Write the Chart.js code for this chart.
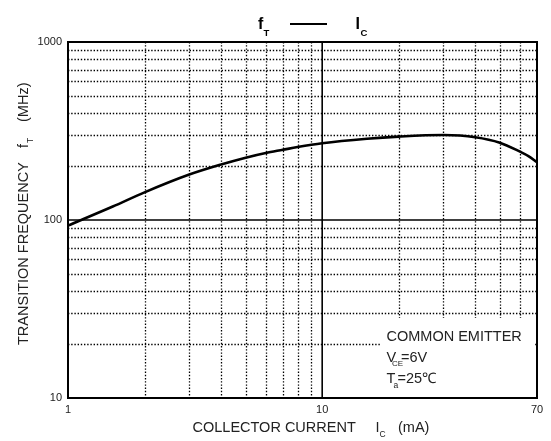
<!DOCTYPE html>
<html><head><meta charset="utf-8">
<script src="https://cdn.jsdelivr.net/npm/chart.js@4/dist/chart.umd.min.js"></script>
<style>html,body{margin:0;padding:0;background:#fff}canvas{display:block}</style>
</head><body>
<canvas id="c" width="551" height="441"></canvas>
<script>
// ---- data ----
const currents = [1, 1.5, 2, 3, 4, 5, 6, 7, 8, 10, 15, 20, 30, 40, 50, 60, 65, 70];      // Ic (mA)
const fTvalues = [93, 119, 143, 180, 205, 224, 238, 248, 257, 270, 286, 294, 300, 292, 272, 242, 228, 211]; // fT (MHz)
const xTickLabels = [1, 10, 70];
const yTickLabels = [10, 100, 1000];
const xMinorGrid = [2, 3, 4, 5, 6, 7, 8, 9, 20, 30, 40, 50, 60];
const yMinorGrid = [20, 30, 40, 50, 60, 70, 80, 90, 200, 300, 400, 500, 600, 700, 800, 900];
const xMajorGrid = [10];
const yMajorGrid = [100];
const titleParts = ['f', 'T', 'I', 'C'];
const xTitleText = 'COLLECTOR CURRENT';
const yTitleText = 'TRANSITION FREQUENCY';
const noteLines = ['COMMON EMITTER', 'V', 'CE', '=6V', 'T', 'a', '=25\u2103'];

const FONT = "'Liberation Sans', Arial, sans-serif";
const TXT = '#222';

function txt(ctx, s, x, y, size, bold, color) {
  ctx.font = (bold ? 'bold ' : '') + size + 'px ' + FONT;
  ctx.fillStyle = color || TXT;
  ctx.fillText(s, x, y);
  return ctx.measureText(s).width;
}

const decor = {
  id: 'decor',
  beforeDatasetsDraw(chart) {
    const ctx = chart.ctx, a = chart.chartArea;
    const xs = chart.scales.x, ys = chart.scales.y;
    ctx.save();
    // dotted minor grid
    ctx.strokeStyle = '#000';
    ctx.lineWidth = 1.3;
    ctx.setLineDash([1.4, 1.8]);
    xMinorGrid.forEach(v => {
      const px = Math.round(xs.getPixelForValue(v)) + 0.5;
      ctx.beginPath(); ctx.moveTo(px, a.top); ctx.lineTo(px, a.bottom); ctx.stroke();
    });
    yMinorGrid.forEach(v => {
      const py = Math.round(ys.getPixelForValue(v)) + 0.5;
      ctx.beginPath(); ctx.moveTo(a.left, py); ctx.lineTo(a.right, py); ctx.stroke();
    });
    // solid major grid
    ctx.setLineDash([]);
    ctx.strokeStyle = '#000';
    ctx.lineWidth = 1.6;
    xMajorGrid.forEach(v => {
      const px = xs.getPixelForValue(v);
      ctx.beginPath(); ctx.moveTo(px, a.top); ctx.lineTo(px, a.bottom); ctx.stroke();
    });
    yMajorGrid.forEach(v => {
      const py = ys.getPixelForValue(v);
      ctx.beginPath(); ctx.moveTo(a.left, py); ctx.lineTo(a.right, py); ctx.stroke();
    });
    ctx.restore();
  },
  afterDatasetsDraw(chart) {
    const ctx = chart.ctx, a = chart.chartArea;
    ctx.save();
    // annotation box
    ctx.fillStyle = '#fff';
    ctx.fillRect(380, 318, 154, a.bottom - 318);
    ctx.textBaseline = 'alphabetic';
    txt(ctx, noteLines[0], 386.5, 341, 14.5, false);
    txt(ctx, noteLines[1], 386.5, 362, 14.5, false);
    txt(ctx, noteLines[2], 392, 366, 8, false);
    txt(ctx, noteLines[3], 401, 362, 14.5, false);
    txt(ctx, noteLines[4], 386.5, 383, 14.5, false);
    txt(ctx, noteLines[5], 393.5, 387.5, 8.5, false);
    txt(ctx, noteLines[6], 397.5, 383, 14.5, false);
    // frame
    ctx.strokeStyle = '#000';
    ctx.lineWidth = 2;
    ctx.strokeRect(a.left, a.top, a.right - a.left, a.bottom - a.top);
    ctx.restore();
  },
  afterDraw(chart) {
    const ctx = chart.ctx;
    ctx.save();
    ctx.textBaseline = 'alphabetic';
    // title
    txt(ctx, titleParts[0], 258, 28.5, 16, true, '#000');
    txt(ctx, titleParts[1], 263.5, 35.5, 9.5, true, '#000');
    ctx.strokeStyle = '#000'; ctx.lineWidth = 2;
    ctx.beginPath(); ctx.moveTo(290, 24); ctx.lineTo(327, 24); ctx.stroke();
    txt(ctx, titleParts[2], 355.5, 28.5, 16, true, '#000');
    txt(ctx, titleParts[3], 360.5, 35.5, 9.5, true, '#000');
    // x title
    txt(ctx, xTitleText, 192.5, 432, 14.5, false);
    txt(ctx, 'I', 375.5, 432, 14.5, false);
    txt(ctx, 'C', 379.5, 437, 8.5, false);
    txt(ctx, '(mA)', 398, 432, 14.5, false);
    // y title (rotated)
    ctx.translate(27.5, 345);
    ctx.rotate(-Math.PI / 2);
    txt(ctx, yTitleText, 0, 0, 14.5, false);
    txt(ctx, 'f', 197, 0, 14.5, false);
    txt(ctx, 'T', 202, 5, 8.5, false);
    txt(ctx, '(MHz)', 223, 0, 14.5, false);
    ctx.restore();
  }
};

new Chart(document.getElementById('c'), {
  type: 'line',
  data: {
    datasets: [{
      data: currents.map((x, i) => ({ x: x, y: fTvalues[i] })),
      borderColor: '#000',
      borderWidth: 2.6,
      pointRadius: 0,
      fill: false,
      cubicInterpolationMode: 'monotone'
    }]
  },
  options: {
    responsive: false,
    animation: false,
    devicePixelRatio: 1,
    layout: { padding: { top: 42, right: 14, left: 0, bottom: 0 } },
    plugins: { legend: { display: false }, tooltip: { enabled: false }, title: { display: false } },
    scales: {
      x: {
        type: 'logarithmic', min: 1, max: 70,
        grid: { display: false, drawTicks: false },
        border: { display: false },
        afterBuildTicks: s => { s.ticks = xTickLabels.map(v => ({ value: v })); },
        afterFit: s => { s.height = 43; },
        ticks: {
          autoSkip: false, maxRotation: 0, minRotation: 0, padding: 5,
          color: TXT, font: { family: FONT, size: 11 },
          callback: v => String(v)
        }
      },
      y: {
        type: 'logarithmic', min: 10, max: 1000,
        grid: { display: false, drawTicks: false },
        border: { display: false },
        afterBuildTicks: s => { s.ticks = yTickLabels.map(v => ({ value: v })); },
        afterFit: s => { s.width = 68; },
        ticks: {
          autoSkip: false, padding: 6,
          color: TXT, font: { family: FONT, size: 11 },
          callback: v => String(v)
        }
      }
    }
  },
  plugins: [decor]
});
</script>
</body></html>
